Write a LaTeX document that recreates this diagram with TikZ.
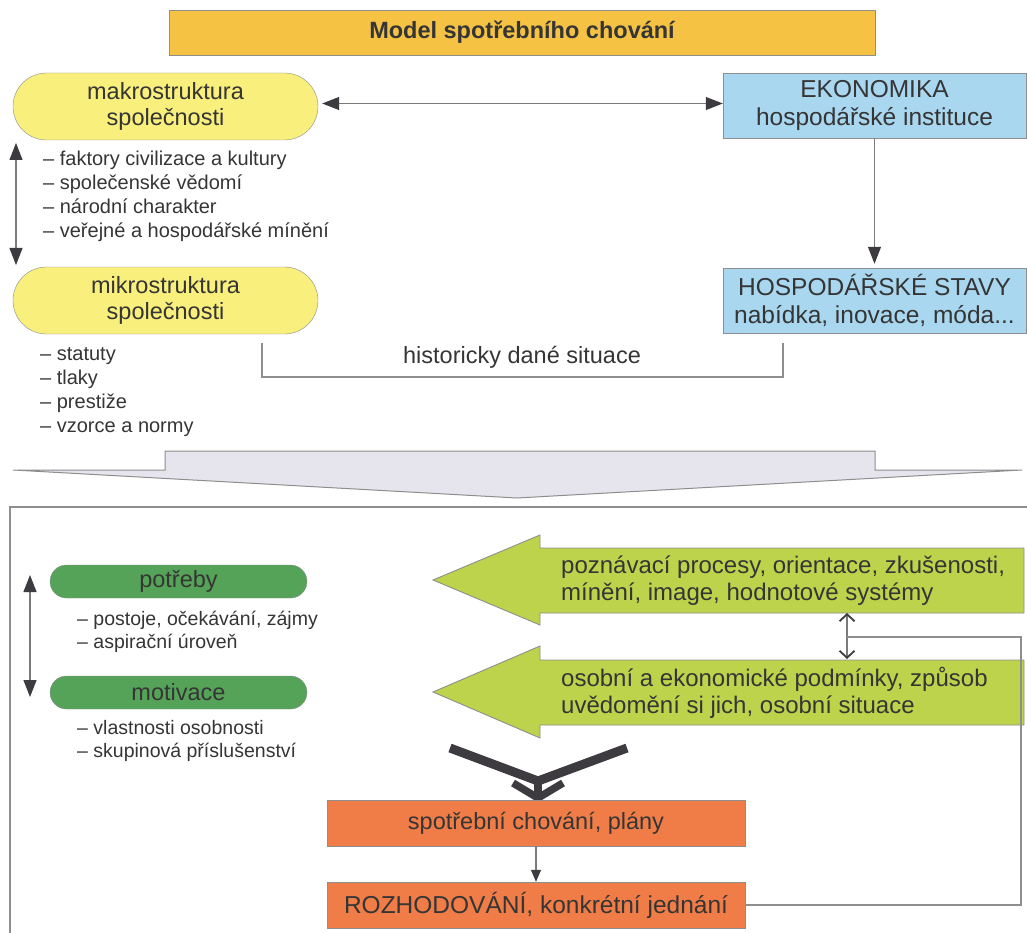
\documentclass[tikz,border=0pt]{standalone}
\usepackage{fontspec}
\setmainfont{Liberation Sans}
\usetikzlibrary{arrows.meta,calc,shapes.misc}
\definecolor{titlefill}{HTML}{F5C244}
\definecolor{yel}{HTML}{F8EF7C}
\definecolor{blu}{HTML}{A9D7F0}
\definecolor{grn}{HTML}{55A358}
\definecolor{lime}{HTML}{BDD34B}
\definecolor{org}{HTML}{F07D47}
\definecolor{greyarr}{HTML}{E6E4EC}
\definecolor{ink}{HTML}{353535}
\definecolor{dark}{HTML}{3E3B40}
\definecolor{edge}{HTML}{8E8E8E}
\definecolor{lin}{HTML}{7A7A7A}
\begin{document}
\begin{tikzpicture}[x=1pt,y=-1pt,
  ttl/.style={draw=edge, fill=titlefill, minimum width=706pt, minimum height=45pt, inner sep=0pt,
    font=\fontsize{23.5}{26}\selectfont\bfseries, text=ink},
  stad/.style={rounded rectangle, draw=edge, fill=yel, minimum width=305pt, minimum height=67pt,
    inner sep=0pt, align=center, font=\fontsize{23.5}{26}\selectfont, text=ink},
  bbox/.style={draw=edge, fill=blu, minimum width=303pt, minimum height=65pt, inner sep=0pt,
    align=center, font=\fontsize{24.5}{27.5}\selectfont, text=ink},
  gstad/.style={rounded rectangle, draw=edge, fill=grn, minimum width=257pt, minimum height=33pt,
    inner sep=0pt, font=\fontsize{23.5}{26}\selectfont, text=ink},
  obox/.style={draw=edge, fill=org, minimum width=418pt, minimum height=46pt, inner sep=0pt,
    font=\fontsize{23.5}{27}\selectfont, text=ink},
  lst/.style={anchor=west, inner sep=0pt, align=left, font=\fontsize{20}{24}\selectfont, text=ink},
  lst2/.style={anchor=west, inner sep=0pt, align=left, font=\fontsize{19.5}{22.5}\selectfont, text=ink},
  ltxt/.style={anchor=west, inner sep=0pt, align=left, font=\fontsize{24}{27}\selectfont, text=ink},
  con/.style={draw=lin, line width=1.1pt},
  dbl/.style={con, {Triangle[length=17pt,width=13pt,color=dark]}-{Triangle[length=17pt,width=13pt,color=dark]}},
  arr/.style={con, -{Triangle[length=17pt,width=13pt,color=dark]}},
  sarr/.style={con, -{Triangle[length=12pt,width=10pt,color=dark]}},
  obarb/.style={con, {Straight Barb[length=7pt,width=15pt,line width=1.8pt,color=dark]}-{Straight Barb[length=7pt,width=15pt,line width=1.8pt,color=dark]}},
  ybar/.style={draw=dark, line width=9pt, line join=bevel},
  gline/.style={draw=edge, line width=1.2pt}
]
\useasboundingbox (0,0) rectangle (1027,933);

% title
\node[ttl] (title) at (522,32.5) {Model spotřebního chování};

% top left
\node[stad] (makro) at (165.5,106.5) {makrostruktura\\společnosti};
\node[stad] (mikro) at (165.5,300.5) {mikrostruktura\\společnosti};
\node[lst] (makrolist) at (43,196.5) {– faktory civilizace a kultury\\– společenské vědomí\\– národní charakter\\– veřejné a hospodářské mínění};
\node[lst] (mikrolist) at (40,392.5) {– statuty\\– tlaky\\– prestiže\\– vzorce a normy};

% top right
\node[bbox] (eko) at (874.5,105.5) {EKONOMIKA\\hospodářské instituce};
\node[bbox] (hosp) at (874.5,300.5) {HOSPODÁŘSKÉ STAVY\\nabídka, inovace, móda...};

\draw[dbl] (makro.east) ++(4,-3) coordinate (me) -- (me -| eko.west);
\coordinate (la1) at (16,143);
\coordinate (la2) at (16,265);
\draw[dbl] (la1) -- (la2);
\draw[arr, shorten >=4pt] (eko) -- (hosp);

% historicky dane situace
\coordinate (bl) at (262,343);
\coordinate (br) at (783,343);
\draw[gline] (bl) -- (262,377) -- (783,377) -- (br);
\node[font=\fontsize{23.5}{26}\selectfont, text=ink] (hist) at (522,357) {historicky dané situace};

% big grey arrow
\draw[draw=edge, fill=greyarr, line width=1pt] (165,451) -- (875,451) -- (875,470) -- (1022,470)
  -- (517,498) -- (13,470) -- (165,470) -- cycle;

% frame
\draw[gline] (10,934) -- (10,507) -- (1028,507);

% bottom left
\node[gstad] (potr) at (178.5,581.5) {potřeby};
\node[gstad] (motiv) at (178.5,692.5) {motivace};
\coordinate (lb1) at (30,575);
\coordinate (lb2) at (30,697);
\draw[dbl] (lb1) -- (lb2);
\node[lst2] (potrlist) at (77,632) {– postoje, očekávání, zájmy\\– aspirační úroveň};
\node[lst2] (motivlist) at (77,741) {– vlastnosti osobnosti\\– skupinová příslušenství};

% green arrows
\draw[draw=edge, fill=lime, line width=0.9pt] (1024,548) -- (540,548) -- (540,535) -- (433,580)
  -- (540,625) -- (540,613) -- (1024,613) -- cycle;
\node[ltxt] (poz) at (561,580.5) {poznávací procesy, orientace, zkušenosti,\\mínění, image, hodnotové systémy};
\draw[draw=edge, fill=lime, line width=0.9pt] (1024,660) -- (540,660) -- (540,646) -- (433,692)
  -- (540,738) -- (540,725) -- (1024,725) -- cycle;
\node[ltxt] (oso) at (561,693) {osobní a ekonomické podmínky, způsob\\uvědomění si jich, osobní situace};

\coordinate (g1) at (847,613);
\coordinate (g2) at (847,659);
\draw[obarb] (g1) -- (g2);
\coordinate (fb) at (847,637);

% merge
\coordinate (yl) at (450,748);
\coordinate (yr) at (627,748);
\coordinate (yj) at (538,781);
\draw[ybar] (yl) -- (yj) -- (yr);
\draw[draw=dark, line width=8pt] (538,778) -- (538,796);
\draw[draw=dark, line width=7.5pt, line join=miter] (513,783) -- (538,798) -- (563,783);

% orange boxes
\node[obox] (sp) at (536,823) {spotřební chování, plány};
\node[obox, font=\fontsize{24.5}{27}\selectfont] (roz) at (536,905) {ROZHODOVÁNÍ, konkrétní jednání};
\draw[sarr] (sp) -- (roz);
\draw[gline] (roz.east) -- (1021,905) |- (fb);
\end{tikzpicture}
\end{document}
